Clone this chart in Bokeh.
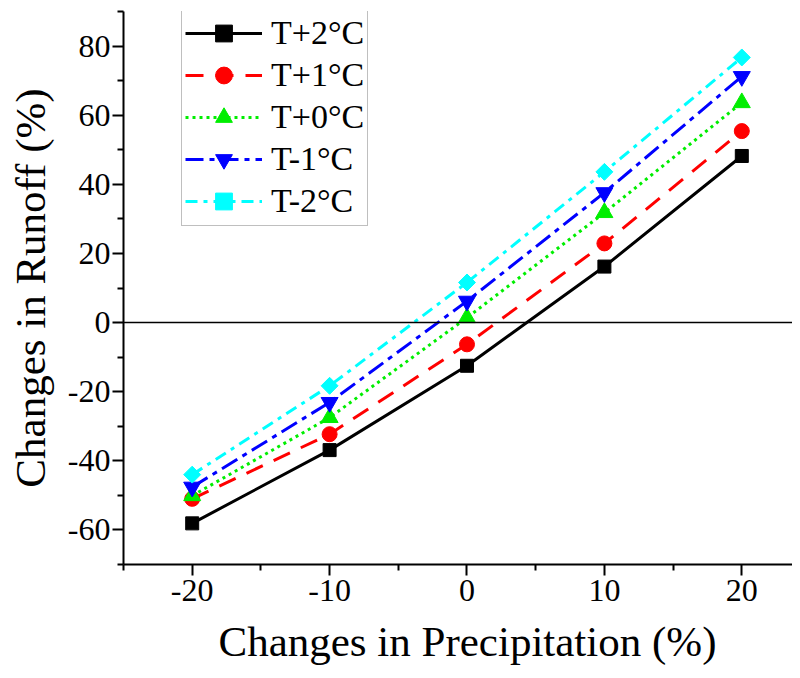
from bokeh.plotting import figure
from bokeh.models import FixedTicker, Span, Legend, LegendItem, Range1d, Title
from bokeh.embed import file_html
from bokeh.resources import INLINE

precip = [-20, -10, 0, 10, 20]
t_plus2 = [-58.1, -36.9, -12.5, 16.2, 48.2]
t_plus1 = [-51.0, -32.3, -6.3, 22.9, 55.4]
t_plus0 = [-50.1, -27.5, 1.4, 31.8, 63.6]
t_minus1 = [-47.6, -23.1, 6.2, 37.6, 71.2]
t_minus2 = [-44.0, -18.3, 11.6, 43.6, 76.7]

labels = ["T+2°C", "T+1°C", "T+0°C", "T-1°C", "T-2°C"]
x_major = [-20, -10, 0, 10, 20]
x_minor = [-25, -15, -5, 5, 15]
y_major = [-60, -40, -20, 0, 20, 40, 60, 80]
y_minor = [-70, -50, -30, -10, 10, 30, 50, 70, 90]
x_title = "Changes in Precipitation (%)"
y_title = "Changes in Runoff (%)"

FONT = "Liberation Serif"

p = figure(width=792, height=676, output_backend="svg", toolbar_location=None,
           x_range=Range1d(-25, 23.69), y_range=Range1d(-70, 90),
           min_border_left=123, min_border_right=0, min_border_top=11, min_border_bottom=112)
p.outline_line_color = None
p.xgrid.visible = False
p.ygrid.visible = False

for ax in (p.xaxis[0], p.yaxis[0]):
    ax.axis_line_width = 2
    ax.axis_line_color = "black"
    ax.major_tick_line_width = 2
    ax.minor_tick_line_width = 2
    ax.major_tick_in = 0
    ax.minor_tick_in = 0
    ax.major_tick_out = 11
    ax.minor_tick_out = 6
    ax.major_label_text_font = FONT
    ax.major_label_text_font_size = "32px"
    ax.major_label_text_color = "black"
    ax.axis_label_text_font = FONT
    ax.axis_label_text_font_size = "43px"
    ax.axis_label_text_font_style = "normal"
    ax.axis_label_text_color = "black"

p.xaxis.ticker = FixedTicker(ticks=x_major, minor_ticks=x_minor)
p.yaxis.ticker = FixedTicker(ticks=y_major, minor_ticks=y_minor)
p.xaxis.major_label_overrides = {v: str(v) for v in x_major}
p.yaxis.major_label_overrides = {v: str(v) for v in y_major}
p.xaxis.major_label_standoff = 4
p.yaxis.major_label_standoff = 2
p.yaxis.axis_label = y_title
p.yaxis.axis_label_standoff = 11

xt = Title(text=x_title, align="left", offset=95, standoff=24,
           text_font=FONT, text_font_size="43px", text_font_style="normal", text_color="black")
p.add_layout(xt, "below")

p.add_layout(Span(location=0, dimension="width", line_color="black", line_width=1.5))

series = [t_plus2, t_plus1, t_plus0, t_minus1, t_minus2]
colors = ["#000000", "#ff0000", "#00ee00", "#0000ff", "#00ffff"]
dashes = ["solid", "18 12", "3 4", "18 6 5 6", "12 6 4 6"]
markers = ["square", "circle", "triangle", "inverted_triangle", "square"]
sizes = [13, 15, 17, 17, 12]
angles = [0, 0, 0, 0, 0.785398]

items = []
for vals, lab, c, d, m, s, a in zip(series, labels, colors, dashes, markers, sizes, angles):
    ln = p.line(precip, vals, line_color=c, line_width=3, line_dash=d)
    sc = p.scatter(precip, vals, marker=m, size=s, angle=a, fill_color=c, line_color=c)
    items.append(LegendItem(label=lab, renderers=[ln, sc]))

legend = Legend(items=items, location=(58, 338))
legend.label_text_font = FONT
legend.label_text_font_size = "34px"
legend.label_text_color = "black"
legend.glyph_width = 77
legend.glyph_height = 42
legend.label_height = 42
legend.label_standoff = 9
legend.spacing = 0
legend.padding = 3
legend.margin = 0
legend.border_line_color = "#808080"
legend.border_line_width = 1.5
legend.background_fill_alpha = 1
p.add_layout(legend, "center")

open("out.html", "w").write(file_html(p, INLINE))
